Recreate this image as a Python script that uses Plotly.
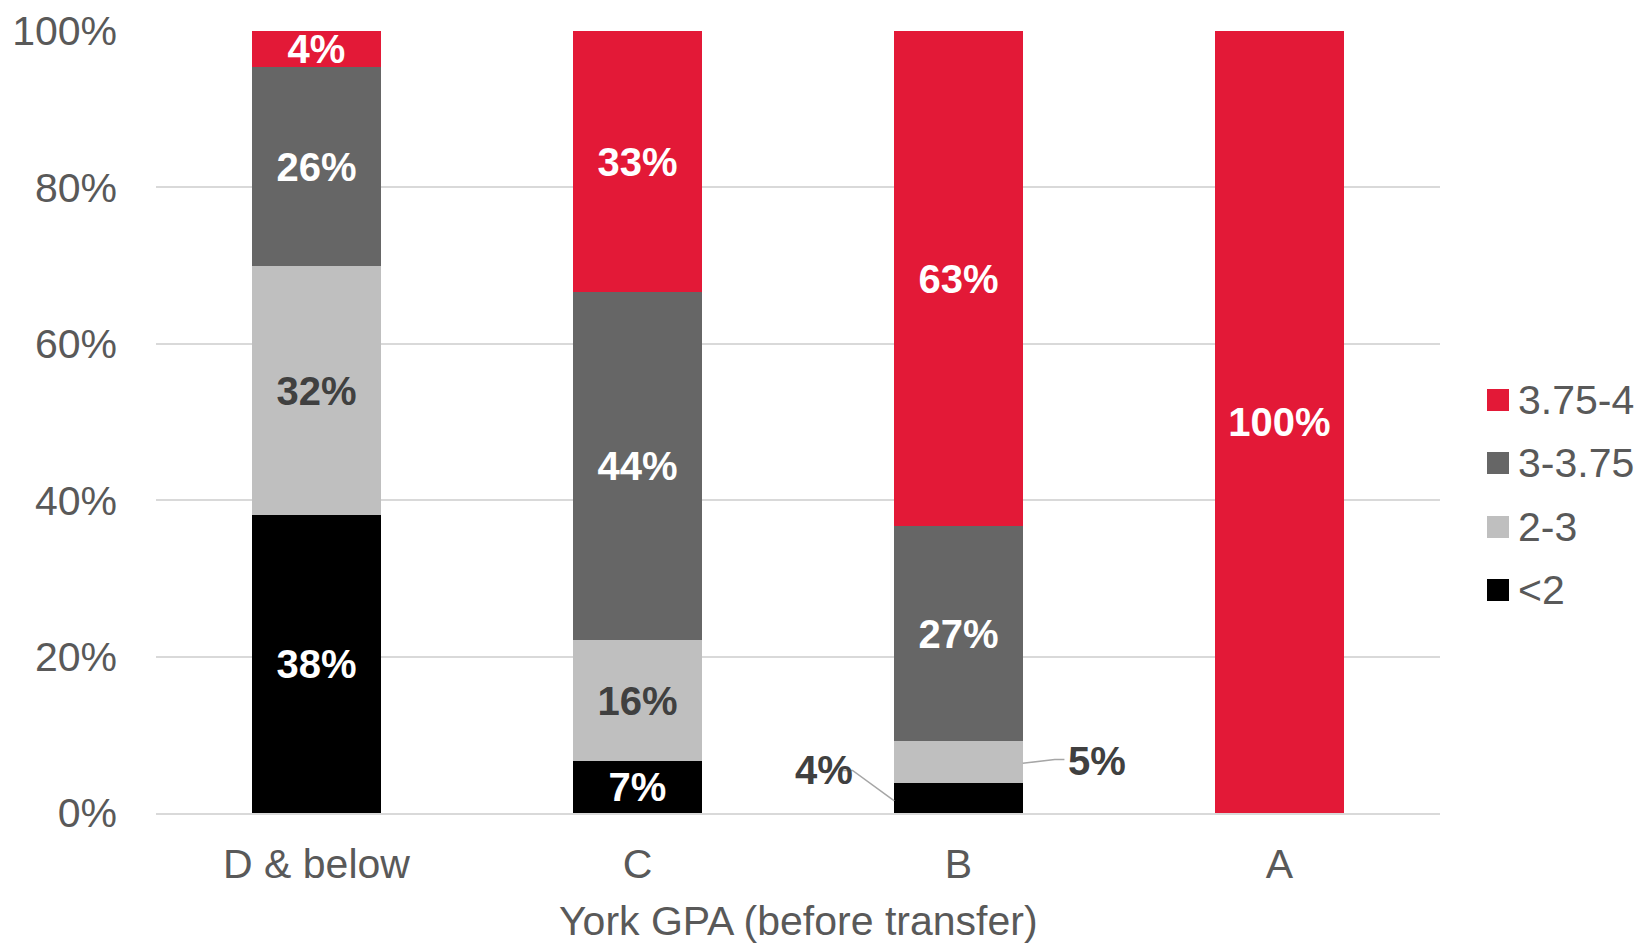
import plotly.graph_objects as go

# York GPA groups (x) and share of students in each post-transfer GPA band
categories = ["D & below", "C", "B", "A"]
bands = ["<2", "2-3", "3-3.75", "3.75-4"]
share_lt2 = [38.1, 6.6, 3.9, 0]
share_2_3 = [31.8, 15.5, 5.3, 0]
share_3_375 = [25.5, 44.5, 27.5, 0]
share_375_4 = [4.6, 33.4, 63.3, 100]
labels_lt2 = ["38%", "7%", "", ""]
labels_2_3 = ["32%", "16%", "", ""]
labels_3_375 = ["26%", "44%", "27%", ""]
labels_375_4 = ["4%", "33%", "63%", "100%"]
y_ticks = [0, 20, 40, 60, 80, 100]
y_tick_labels = ["0%", "20%", "40%", "60%", "80%", "100%"]

COLORS = ["#000000", "#BFBFBF", "#666666", "#E31937"]
TEXT_COLORS = ["#FFFFFF", "#404040", "#FFFFFF", "#FFFFFF"]
FONT = "Liberation Sans, Arial, sans-serif"

# full-window figure; body margin is removed in the page (see post_script)
W, H = 1652, 943
ML, MT = 156, 31
PW, PH = 1284, 782


def paper_x(px):
    return (px - ML) / PW


def paper_y(py):
    return (MT + PH - py) / PH


series = [share_lt2, share_2_3, share_3_375, share_375_4]
texts = [labels_lt2, labels_2_3, labels_3_375, labels_375_4]

fig = go.Figure()
for name, vals, txt, color, tcol in zip(bands, series, texts, COLORS, TEXT_COLORS):
    fig.add_trace(
        go.Bar(
            x=categories,
            y=vals,
            name=name,
            text=txt,
            textposition="inside",
            insidetextanchor="middle",
            textangle=0,
            textfont=dict(size=40, color=tcol, family=FONT, weight="bold"),
            marker=dict(color=color, line=dict(width=0)),
            width=0.4,
            showlegend=False,
            hoverinfo="skip",
        )
    )

# legend drawn by hand so the swatches match the original size (top = last band)
legend_px_y = [400, 463, 527, 590]
for py, name, color in zip(legend_px_y, reversed(bands), reversed(COLORS)):
    yc = paper_y(py)
    sq = 11 / PH
    fig.add_shape(
        type="rect", xref="paper", yref="paper",
        x0=paper_x(1487), x1=paper_x(1509), y0=yc - sq, y1=yc + sq,
        fillcolor=color, line=dict(width=0),
    )
    fig.add_annotation(
        xref="paper", yref="paper", x=paper_x(1516), y=yc,
        xanchor="left", yanchor="middle", text=name, showarrow=False,
        font=dict(size=41, color="#595959", family=FONT),
    )

# x axis title
fig.add_annotation(
    xref="paper", yref="paper", x=0.5, y=paper_y(921),
    xanchor="center", yanchor="middle", text="York GPA (before transfer)",
    showarrow=False, font=dict(size=41, color="#595959", family=FONT),
)

# outside labels for the thin B segments, with leader lines
b = categories.index("B")
b_lt2_mid = share_lt2[b] / 2
b_23_mid = share_lt2[b] + share_2_3[b] / 2
fig.add_shape(
    type="path",
    path=f"M {b - 0.37},{b_lt2_mid + 3.5} L {b - 0.33},{b_lt2_mid + 3.5} L {b - 0.2},{b_lt2_mid - 0.4}",
    xref="x", yref="y",
    line=dict(color="#A6A6A6", width=1.5),
)
fig.add_shape(
    type="path",
    path=f"M {b + 0.2},{b_23_mid - 0.2} L {b + 0.3},{b_23_mid + 0.3} L {b + 0.33},{b_23_mid + 0.3}",
    xref="x", yref="y",
    line=dict(color="#A6A6A6", width=1.5),
)
fig.add_annotation(
    x=b - 0.42, y=b_lt2_mid + 3.5, text="4%", showarrow=False,
    font=dict(size=40, color="#404040", family=FONT, weight="bold"),
)
fig.add_annotation(
    x=b + 0.43, y=b_23_mid + 0.1, text="5%", showarrow=False,
    font=dict(size=40, color="#404040", family=FONT, weight="bold"),
)

fig.update_layout(
    barmode="stack",
    width=W,
    height=H,
    margin=dict(l=ML, r=W - ML - PW, t=MT, b=H - MT - PH),
    plot_bgcolor="white",
    paper_bgcolor="white",
    font=dict(family=FONT, size=40, color="#595959"),
    uniformtext=dict(minsize=40, mode="show"),
    showlegend=False,
    xaxis=dict(
        automargin=False,
        tickfont=dict(size=41, color="#595959"),
        showgrid=False,
        showline=True,
        linecolor="#D9D9D9",
        linewidth=2,
        ticks="",
        ticklabelstandoff=14,
        range=[-0.5, 3.5],
    ),
    yaxis=dict(
        automargin=False,
        range=[0, 100],
        tickvals=y_ticks,
        ticktext=y_tick_labels,
        tickfont=dict(size=41, color="#595959"),
        showgrid=True,
        gridcolor="#D9D9D9",
        gridwidth=2,
        zeroline=False,
        ticks="",
        ticklabelstandoff=38,
    ),
)

fig.write_html(
    "out.html",
    config={"displayModeBar": False},
    post_script="document.body.style.margin='0';document.body.style.overflow='hidden';",
)
